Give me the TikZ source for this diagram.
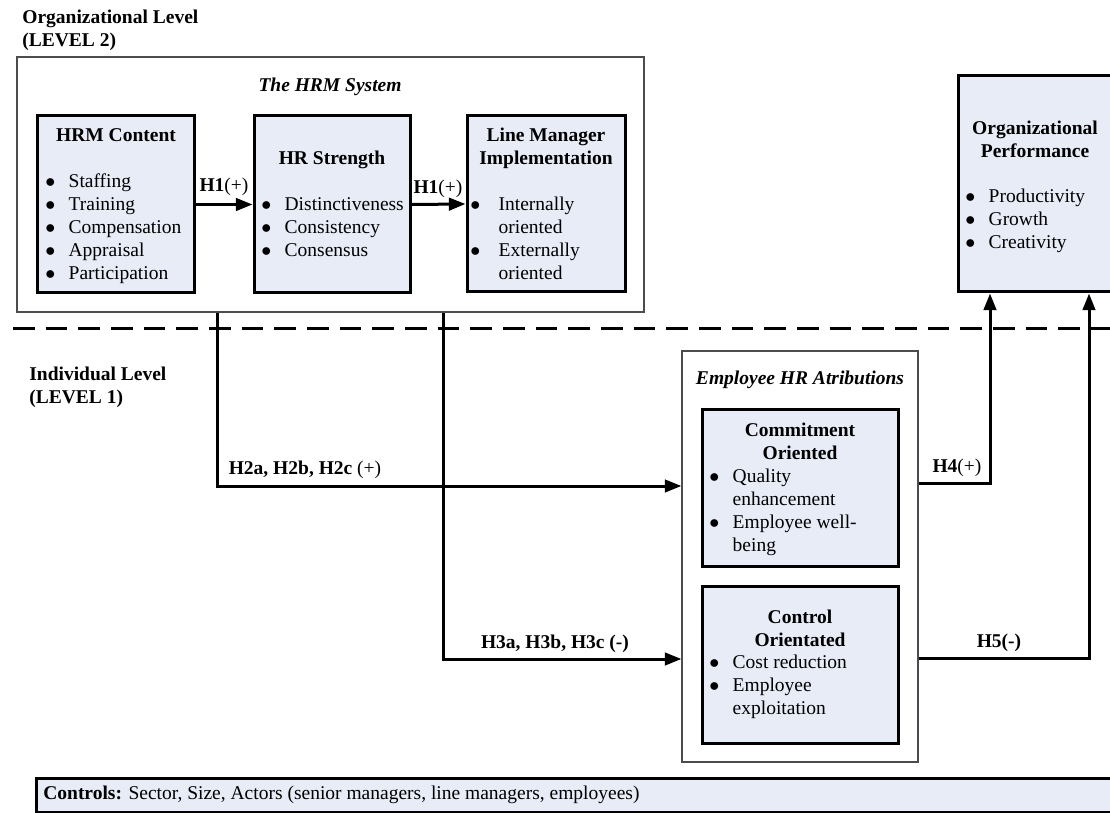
\documentclass[tikz,border=0pt]{standalone}
\usepackage{fontspec}
\setmainfont{Liberation Serif}
\usetikzlibrary{arrows.meta,fit}
\definecolor{boxblue}{RGB}{231,236,247}
\newcommand{\itm}[2][14pt]{\makebox[#1][l]{$\bullet$}#2}
\newcommand{\cnt}[2][14pt]{\hspace*{#1}#2}
\tikzset{
  every node/.style={inner sep=0pt, font=\fontsize{11.7}{13.8}\selectfont},
  ibox/.style={draw=black, line width=1.8pt, fill=boxblue, inner sep=0pt},
  obox/.style={draw=black!70, line width=0.7pt, inner sep=0pt},
  link/.style={line width=1.8pt, -{Triangle[length=10pt,width=7.5pt]}},
  lvl/.style={anchor=north west, align=left, font=\bfseries\fontsize{11.7}{13.8}\selectfont},
  ttl/.style={anchor=north, align=center, font=\bfseries\fontsize{11.7}{13.8}\selectfont},
  systtl/.style={font=\bfseries\itshape\fontsize{11.7}{13.8}\selectfont},
  lst/.style={anchor=north west, align=left},
}
\begin{document}
\begin{tikzpicture}[x=0.6pt,y=-0.6pt]
\useasboundingbox (0,0) rectangle (1110,813);
\clip (0,0) rectangle (1110,813);
% level labels
\node[lvl] (lvl2) at (22,10) {Organizational Level\\(LEVEL 2)};
\node[lvl] (lvl1) at (29,367) {Individual Level\\(LEVEL 1)};
\draw [line width=1.8pt, dash pattern=on 13pt off 6.6pt] (13,329) -- (1110,329);
% the HRM system
\node[obox, fit={(17,57) (644,312)}] (hrmsys) {};
\node[systtl] (systtl) at (330,87) {The HRM System};
\node[ibox, fit={(37,116) (194,293)}] (content) {};
\node[ttl] (contentttl) at (116,128) {HRM Content};
\node[lst] (contentlst) at (45,173) {\itm{Staffing}\\\itm{Training}\\\itm{Compensation}\\\itm{Appraisal}\\\itm{Participation}};
\node[ibox, fit={(254,116) (410,293)}] (strength) {};
\node[ttl] (strengthttl) at (332,151) {HR Strength};
\node[lst] (strengthlst) at (261,197) {\itm{Distinctiveness}\\\itm{Consistency}\\\itm{Consensus}};
\node[ibox, fit={(467,116) (625,292)}] (linemgr) {};
\node[ttl] (linemgrttl) at (546,128) {Line Manager\\Implementation};
\node[lst] (linemgrlst) at (470,197) {\itm[17pt]{Internally}\\\cnt[17pt]{oriented}\\\itm[17pt]{Externally}\\\cnt[17pt]{oriented}};
\draw[link] (content.east) -- (strength.west);
\node (h1a) at (224,187) {\textbf{H1}(+)};
\draw[link] (strength.east) -- (linemgr.west);
\node (h1b) at (438,189) {\textbf{H1}(+)};
% organizational performance
\node[ibox, fit={(958,76) (1112,292)}] (orgperf) {};
\node[ttl] (orgperfttl) at (1035,121) {Organizational\\Performance};
\node[lst] (orgperflst) at (965,189) {\itm{Productivity}\\\itm{Growth}\\\itm{Creativity}};
% employee attributions
\node[obox, fit={(682,351) (918,762)}] (emp) {};
\node[systtl] (empttl) at (800,380) {Employee HR Atributions};
\node[ibox, fit={(702,410) (898,566)}] (commit) {};
\node[ttl] (committtl) at (800,423) {Commitment\\Oriented};
\node[lst] (commitlst) at (709,469) {\itm{Quality}\\\cnt{enhancement}\\\itm{Employee well-}\\\cnt{being}};
\node[ibox, fit={(702,586) (898,743)}] (control) {};
\node[ttl] (controlttl) at (800,610) {Control\\Orientated};
\node[lst] (controllst) at (709,655) {\itm{Cost reduction}\\\itm{Employee}\\\cnt{exploitation}};
% hypotheses
\coordinate (turn2) at (217,486);
\draw[link] (turn2 |- hrmsys.south) -- (turn2) -- (turn2 -| emp.west);
\node (h2) at (305,470) {\textbf{H2a, H2b, H2c} (+)};
\coordinate (turn3) at (443,659);
\draw[link] (turn3 |- hrmsys.south) -- (turn3) -- (turn3 -| emp.west);
\node (h3) at (555,644) {\textbf{H3a, H3b, H3c (-)}};
\coordinate (turn4) at (990,483);
\draw[link] (turn4 -| emp.east) -- (turn4) -- (turn4 |- orgperf.south);
\node (h4) at (957,468) {\textbf{H4}(+)};
\coordinate (turn5) at (1089,658);
\draw[link] (turn5 -| emp.east) -- (turn5) -- (turn5 |- orgperf.south);
\node (h5) at (999,643) {\textbf{H5(-)}};
% controls
\node[ibox, fit={(36,778) (1125,812)}] (controls) {};
\node[anchor=west] (controlstxt) at (43,795) {\textbf{Controls:} Sector, Size, Actors (senior managers, line managers, employees)};
\end{tikzpicture}
\end{document}
